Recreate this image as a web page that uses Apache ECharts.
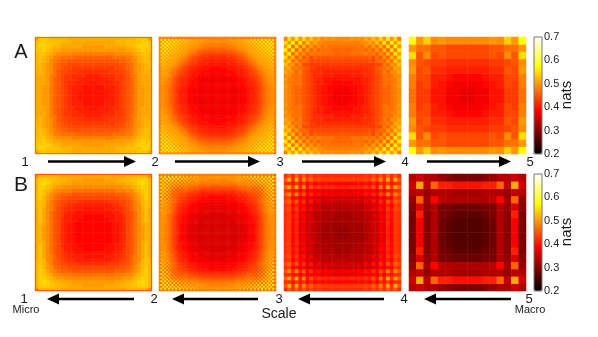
<!DOCTYPE html>
<html>
<head>
<meta charset="utf-8">
<style>html,body{margin:0;padding:0;background:#fff}#main{width:598px;height:337px}</style>
<script src="https://cdn.jsdelivr.net/npm/echarts@6/dist/echarts.min.js"></script>
</head>
<body>
<div id="main"></div>
<script>
// every panel is stored as its top-left quadrant (edge -> centre), in 1/100 nats
const a1 = [
[50,53,53,53,52,52,52,52,52,51,51,51,51,51,51,51],
[53,54,54,53,53,53,53,52,52,52,51,51,51,51,51,51],
[53,54,54,54,53,52,52,51,51,51,51,51,51,50,50,50],
[53,53,54,53,52,51,51,50,50,50,50,50,50,50,50,50],
[52,53,53,52,51,50,49,49,49,49,48,48,48,48,48,48],
[52,53,52,51,50,48,48,47,47,47,47,46,46,46,46,46],
[52,53,52,51,49,48,47,46,46,45,45,45,45,45,45,45],
[52,52,51,50,49,47,46,45,45,44,44,44,44,44,44,44],
[52,52,51,50,49,47,46,45,44,44,43,43,43,43,43,43],
[51,52,51,50,49,47,45,44,44,43,43,43,42,42,42,42],
[51,51,51,50,48,47,45,44,43,43,42,42,42,42,41,41],
[51,51,51,50,48,46,45,44,43,43,42,42,41,41,41,41],
[51,51,51,50,48,46,45,44,43,42,42,41,41,41,41,40],
[51,51,50,50,48,46,45,44,43,42,41,41,41,40,40,40],
[51,51,50,50,48,46,45,44,43,42,41,41,41,40,40,40],
[51,51,50,50,48,46,45,44,43,42,41,41,40,40,40,40]];
const b1 = [
[49,52,52,52,52,52,52,51,51,51,51,51,51,51,51,51],
[52,54,54,54,53,53,52,52,52,51,51,51,51,50,50,50],
[52,54,55,54,53,52,52,51,51,51,50,50,50,50,50,50],
[52,54,54,53,52,51,50,50,49,49,49,49,49,49,49,49],
[52,54,53,52,51,49,49,48,48,48,47,47,47,47,47,47],
[52,54,53,51,49,48,47,46,46,46,45,45,45,45,45,45],
[52,54,52,50,49,47,46,45,45,44,44,44,44,44,44,44],
[52,53,52,50,48,46,45,44,44,43,43,43,42,42,42,42],
[52,53,52,49,48,46,45,44,43,42,42,41,41,41,41,41],
[51,53,51,49,48,46,44,43,42,42,41,41,41,40,40,40],
[51,53,51,49,47,45,44,43,42,41,41,40,40,40,40,40],
[51,53,51,49,47,45,44,43,41,41,40,40,40,39,39,39],
[51,53,51,49,47,45,44,42,41,41,40,40,39,39,39,39],
[51,52,51,49,47,45,44,42,41,40,40,39,39,39,39,39],
[51,52,50,49,47,45,44,42,41,40,40,39,39,39,39,39],
[51,52,50,49,47,45,44,42,41,40,40,39,39,39,39,39]];
const a2 = [
[47,49,48,49,48,49,48,49,48,49,48,49,48,49,48,48,48,48,48,48,48,48,48,48,48,48,48,48,48,48,48,48],
[49,57,50,57,50,57,50,57,50,56,50,55,50,54,50,53,50,52,50,51,50,50,50,50,50,50,49,49,49,49,49,49],
[48,50,57,50,57,50,56,50,56,50,55,50,54,50,53,50,52,50,51,50,50,50,50,50,49,49,49,49,49,49,49,49],
[49,57,50,57,50,57,50,56,50,55,50,54,50,53,50,52,50,51,50,50,50,50,49,49,49,49,49,48,48,48,48,48],
[48,50,57,50,57,50,56,50,55,50,54,50,53,50,52,50,51,50,50,50,50,49,49,49,48,48,48,48,48,48,48,48],
[49,57,50,57,50,56,50,55,50,54,50,53,50,52,50,51,50,50,50,49,49,49,48,48,48,47,47,47,47,47,47,47],
[48,50,56,50,56,50,55,50,54,50,53,50,52,50,51,50,50,49,49,49,48,48,48,47,47,47,47,46,46,46,46,46],
[49,57,50,56,50,55,50,54,50,53,50,52,50,51,50,50,49,49,48,48,47,47,46,46,46,45,45,45,45,45,45,45],
[48,50,56,50,55,50,54,50,53,50,52,50,51,50,50,49,48,48,47,47,46,45,45,45,44,44,44,44,44,44,44,44],
[49,56,50,55,50,54,50,53,50,52,50,51,50,50,49,48,48,47,46,46,45,45,44,44,44,43,43,43,43,43,43,43],
[48,50,55,50,54,50,53,50,52,50,51,50,50,49,48,48,47,46,45,45,44,44,44,43,43,43,43,42,42,42,42,42],
[49,55,50,54,50,53,50,52,50,51,50,50,49,48,48,47,46,45,45,44,44,43,43,43,42,42,42,42,42,42,42,42],
[48,50,54,50,53,50,52,50,51,50,50,49,48,48,47,46,45,45,44,44,43,43,42,42,42,42,41,41,41,41,41,41],
[49,54,50,53,50,52,50,51,50,50,49,48,48,47,46,45,45,44,43,43,43,42,42,42,41,41,41,41,41,41,41,41],
[48,50,53,50,52,50,51,50,50,49,48,48,47,46,45,44,44,43,43,42,42,42,41,41,41,41,41,40,40,40,40,40],
[48,53,50,52,50,51,50,50,49,48,48,47,46,45,44,44,43,43,42,42,42,41,41,41,41,40,40,40,40,40,40,40],
[48,50,52,50,51,50,50,49,48,48,47,46,45,44,44,43,43,42,42,41,41,41,41,40,40,40,40,40,40,40,39,39],
[48,52,50,51,50,50,49,48,48,47,46,45,45,44,43,43,42,42,41,41,41,40,40,40,40,40,40,39,39,39,39,39],
[48,50,51,50,50,50,49,48,47,46,45,45,44,43,43,42,42,41,41,41,40,40,40,40,39,39,39,39,39,39,39,39],
[48,51,50,50,50,49,48,47,47,46,45,44,44,43,42,42,41,41,41,40,40,40,40,39,39,39,39,39,39,39,39,39],
[48,50,50,50,50,49,48,47,46,45,44,44,43,43,42,42,41,41,40,40,40,40,39,39,39,39,39,39,38,38,38,38],
[48,50,50,50,49,49,48,47,45,45,44,43,43,42,42,41,41,41,40,40,40,39,39,39,39,39,38,38,38,38,38,38],
[48,50,50,49,49,48,48,46,45,44,44,43,42,42,41,41,41,40,40,40,39,39,39,39,38,38,38,38,38,38,38,38],
[48,50,50,49,49,48,47,46,45,44,43,43,42,42,41,41,40,40,40,39,39,39,39,38,38,38,38,38,38,38,38,38],
[48,50,49,49,48,48,47,46,44,44,43,42,42,41,41,41,40,40,39,39,39,39,38,38,38,38,38,38,38,38,38,38],
[48,50,49,49,48,47,47,45,44,43,43,42,42,41,41,40,40,40,39,39,39,38,38,38,38,38,38,38,38,38,38,38],
[48,49,49,48,48,47,47,45,44,43,43,42,41,41,41,40,40,39,39,39,38,38,38,38,38,38,38,38,38,38,38,38],
[48,49,49,48,48,47,46,45,44,43,42,42,41,41,40,40,40,39,39,39,38,38,38,38,38,38,38,38,38,38,38,38],
[48,49,49,48,48,47,46,45,44,43,42,42,41,41,40,40,39,39,39,38,38,38,38,38,38,38,38,38,38,38,38,38],
[48,49,49,48,48,47,46,45,44,43,42,42,41,41,40,40,39,39,39,38,38,38,38,38,38,38,38,38,38,38,38,38],
[48,49,49,48,48,47,46,45,44,43,42,41,41,41,40,40,39,39,39,38,38,38,38,38,38,38,38,38,38,38,38,38],
[48,49,49,48,48,47,46,45,44,43,42,41,41,41,40,40,39,39,39,38,38,38,38,38,38,38,38,38,38,38,38,38]];
const b2 = [
[46,50,47,50,47,50,47,50,47,50,47,50,47,50,47,49,47,49,47,49,48,48,48,48,48,48,48,48,48,48,48,48],
[50,57,47,57,47,57,47,57,47,56,47,56,47,55,47,54,48,53,48,52,49,51,49,50,49,50,49,50,49,50,49,50],
[47,47,56,47,56,47,56,47,55,47,55,47,54,47,53,48,52,48,51,49,50,49,50,49,49,49,49,49,49,49,49,49],
[50,57,47,57,47,56,47,56,46,55,46,54,46,53,47,52,47,51,48,50,49,50,49,49,49,49,48,48,48,48,48,48],
[47,47,56,47,56,46,55,46,54,46,54,46,53,46,52,47,51,48,50,48,49,49,48,48,48,48,48,48,48,48,48,48],
[50,57,47,56,46,55,46,54,46,53,46,52,46,51,47,50,47,49,48,48,48,48,47,47,47,47,47,47,47,47,47,47],
[47,47,56,47,55,46,54,45,52,45,51,45,50,46,49,47,48,47,47,47,47,46,46,46,46,46,46,46,46,46,45,45],
[50,57,47,56,46,54,45,52,44,50,44,49,45,48,46,47,46,46,46,46,45,45,45,45,44,44,44,44,44,44,44,44],
[47,47,55,46,54,46,52,44,50,44,48,44,47,45,46,46,45,45,45,44,44,44,44,43,43,43,43,43,43,43,43,43],
[50,56,47,55,46,53,45,50,44,48,44,47,44,46,45,45,44,44,44,43,43,43,42,42,42,42,42,42,42,42,42,42],
[47,47,55,46,54,46,51,44,48,44,47,44,45,44,44,44,43,43,43,42,42,42,42,41,41,41,41,41,41,41,41,41],
[50,56,47,54,46,52,45,49,44,47,44,45,44,44,43,43,43,42,42,42,41,41,41,41,40,40,40,40,40,40,40,40],
[47,47,54,46,53,46,50,45,47,44,45,44,44,43,43,42,42,42,41,41,41,40,40,40,40,40,40,39,39,39,39,39],
[50,55,47,53,46,51,46,48,45,46,44,44,43,43,42,42,41,41,41,40,40,40,40,39,39,39,39,39,39,39,39,39],
[47,47,53,47,52,47,49,46,46,45,44,43,43,42,42,41,41,41,40,40,40,39,39,39,39,39,38,38,38,38,38,38],
[49,54,48,52,47,50,47,47,46,45,44,43,42,42,41,41,41,40,40,40,39,39,39,39,38,38,38,38,38,38,38,38],
[47,48,52,48,51,48,48,46,45,44,43,43,42,41,41,41,40,40,39,39,39,39,38,38,38,38,38,38,38,38,38,38],
[49,53,48,51,48,49,47,46,45,44,43,42,42,41,41,40,40,39,39,39,38,38,38,38,38,38,38,37,37,37,37,37],
[47,48,51,48,50,48,47,46,45,44,43,42,41,41,40,40,39,39,39,38,38,38,38,38,38,37,37,37,37,37,37,37],
[49,52,49,50,48,48,47,46,44,43,42,42,41,40,40,40,39,39,38,38,38,38,38,37,37,37,37,37,37,37,37,37],
[48,49,50,49,49,48,47,45,44,43,42,41,41,40,40,39,39,39,38,38,38,37,37,37,37,37,37,37,37,37,37,37],
[48,51,49,50,48,48,46,45,44,43,42,41,41,40,40,39,39,38,38,38,37,37,37,37,37,37,37,37,36,36,36,36],
[48,49,50,49,48,47,46,45,44,42,42,41,40,40,39,39,38,38,38,37,37,37,37,37,37,37,36,36,36,36,36,36],
[48,50,49,49,48,47,46,45,43,42,41,41,40,39,39,39,38,38,38,37,37,37,37,37,36,36,36,36,36,36,36,36],
[48,49,49,49,48,47,46,44,43,42,41,41,40,39,39,38,38,38,37,37,37,37,37,36,36,36,36,36,36,36,36,36],
[48,50,49,49,48,47,46,44,43,42,41,40,40,39,39,38,38,38,37,37,37,37,36,36,36,36,36,36,36,36,36,36],
[48,49,49,48,48,47,46,44,43,42,41,40,40,39,39,38,38,37,37,37,37,36,36,36,36,36,36,36,36,36,36,36],
[48,50,49,48,48,47,46,44,43,42,41,40,39,39,38,38,38,37,37,37,36,36,36,36,36,36,36,36,36,36,36,36],
[48,49,49,48,48,47,46,44,43,42,41,40,39,39,38,38,37,37,37,37,36,36,36,36,36,36,36,36,36,36,36,36],
[48,50,49,48,48,47,46,44,43,42,41,40,39,39,38,38,37,37,37,36,36,36,36,36,36,36,36,36,36,36,36,36],
[48,49,49,48,48,47,46,44,43,42,41,40,39,39,38,38,37,37,37,36,36,36,36,36,36,36,36,36,36,36,36,36],
[48,50,49,48,48,47,46,44,43,42,41,40,39,39,38,38,37,37,37,36,36,36,36,36,36,36,36,36,36,36,36,36]];
const a3 = [
[48,55,50,56,50,55,50,53,50,51,49,50,49,50,49,49],
[55,50,57,48,56,48,53,49,51,49,49,48,48,48,48,48],
[50,57,47,55,47,52,47,50,47,49,47,48,47,47,47,47],
[56,48,55,46,52,46,50,46,48,46,47,47,47,46,46,46],
[50,56,47,52,47,49,46,48,47,48,47,47,47,47,46,46],
[55,48,52,46,49,45,47,44,46,45,45,45,45,45,45,45],
[50,53,47,50,46,47,46,44,45,44,44,44,44,44,44,44],
[53,49,50,46,48,44,44,43,43,43,43,43,43,43,43,43],
[50,51,47,48,47,46,45,43,43,42,42,42,42,42,42,42],
[51,49,49,46,48,45,44,43,42,42,42,41,41,41,41,41],
[49,49,47,47,47,45,44,43,42,42,41,41,41,41,40,40],
[50,48,48,47,47,45,44,43,42,41,41,40,40,40,40,40],
[49,48,47,47,47,45,44,43,42,41,41,40,40,39,39,39],
[50,48,47,46,47,45,44,43,42,41,40,40,39,39,39,38],
[49,48,47,46,46,45,44,43,42,41,40,40,39,39,38,38],
[49,48,47,46,46,45,44,43,42,41,40,40,39,38,38,38]];
const b3 = [
[42,45,42,46,42,45,42,44,42,43,42,42,42,42,42,42],
[45,52,42,51,42,49,43,46,43,44,43,43,43,43,43,43],
[42,42,40,43,40,42,39,41,39,40,39,40,39,39,39,39],
[46,51,43,52,41,49,40,45,41,43,41,42,41,42,41,41],
[42,42,40,41,38,41,37,39,38,38,37,38,37,37,37,37],
[45,49,42,49,41,45,39,42,39,40,38,39,38,38,38,38],
[42,43,39,40,37,39,36,37,36,36,35,36,35,35,35,35],
[44,46,41,45,39,42,37,40,36,38,35,36,35,36,35,35],
[42,43,39,41,38,39,36,36,35,35,34,34,34,34,34,34],
[43,44,40,43,38,40,36,38,35,35,34,34,33,34,33,33],
[42,43,39,41,37,38,35,35,34,34,33,33,33,33,32,32],
[42,43,40,42,38,39,36,36,34,34,33,33,33,33,32,32],
[42,43,39,41,37,38,35,35,34,33,33,33,32,32,32,32],
[42,43,39,42,37,38,35,36,34,34,32,33,32,32,32,32],
[42,43,39,41,37,38,35,35,34,33,32,32,32,32,32,31],
[42,43,39,41,37,38,35,35,34,33,32,32,32,32,31,31]];
const a4 = [
[58,50,54,49,50,49,49,49],
[50,47,47,45,45,44,44,44],
[55,45,49,44,45,44,44,44],
[49,45,44,43,43,42,42,42],
[50,44,45,42,42,41,41,41],
[48,44,44,41,41,40,39,39],
[48,43,44,41,40,39,38,38],
[47,43,43,40,40,38,38,37]];
const b4 = [
[33,35,33,33,31,30,29,29],
[35,51,34,46,41,41,40,40],
[33,34,31,33,33,33,32,32],
[31,46,32,39,34,33,33,33],
[30,36,31,33,29,29,28,28],
[29,41,30,33,29,28,27,27],
[29,38,30,33,28,27,26,26],
[29,38,30,33,28,27,26,26]];

const colorTicks = { min: 0.2, max: 0.7, step: 0.1 };
// matlab "hot" sampled at even steps
const hot = ['#000000','#550000','#aa0000','#ff0000','#ff5500','#ffaa00','#ffff00','#ffff80','#ffffff'];

const panels = [
  { rows: a1, left: 35, top: 37, edge: '#ff6a00' }, { rows: a2, left: 159, top: 37 },
  { rows: a3, left: 284, top: 37 }, { rows: a4, left: 409, top: 37 },
  { rows: b1, left: 35, top: 174, edge: '#ff5a00' }, { rows: b2, left: 159, top: 174 },
  { rows: b3, left: 284, top: 174 }, { rows: b4, left: 409, top: 174 },
];
const SIZE = 117;

function mirrored(rows) {
  const n = rows.length, out = [];
  for (let y = 0; y < 2 * n; y++) {
    for (let x = 0; x < 2 * n; x++) {
      const i = y < n ? y : 2 * n - 1 - y;
      const j = x < n ? x : 2 * n - 1 - x;
      out.push([x, y, rows[i][j] / 100]);
    }
  }
  return out;
}

const grid = [], xAxis = [], yAxis = [], series = [];
panels.forEach((p, k) => {
  const cats = Array.from({ length: p.rows.length * 2 }, (_, i) => i);
  grid.push({ left: p.left, top: p.top, width: SIZE, height: SIZE });
  xAxis.push({ type: 'category', gridIndex: k, data: cats, show: false });
  yAxis.push({ type: 'category', gridIndex: k, data: cats, show: false });
  series.push({ type: 'heatmap', xAxisIndex: k, yAxisIndex: k, data: mirrored(p.rows), silent: true, animation: false, progressive: 0 });
});

// colour bar axes, the gradient itself comes from visualMap
const barTops = [37, 174];
barTops.forEach((top, i) => {
  const k = panels.length + i;
  grid.push({ left: 534, top: top, width: 8, height: SIZE });
  xAxis.push({ type: 'value', gridIndex: k, show: false });
  yAxis.push({
    type: 'value', gridIndex: k, position: 'right', min: colorTicks.min, max: colorTicks.max, interval: colorTicks.step,
    axisLine: { show: false }, axisTick: { show: false }, splitLine: { show: false },
    axisLabel: { margin: 2, fontSize: 11, color: '#222', fontFamily: 'Liberation Sans', formatter: v => v.toFixed(1) },
  });
});

const visualMap = barTops.map((top, i) => ({
  type: 'continuous', min: colorTicks.min, max: colorTicks.max,
  seriesIndex: i === 0 ? [0, 1, 2, 3] : [4, 5, 6, 7],
  left: 534, top: top, itemWidth: 8, itemHeight: SIZE, padding: 0,
  calculable: false, hoverLink: false, text: null, inRange: { color: hot },
}));

function label(text, x, y, size, extra) {
  return Object.assign({
    type: 'text', x: x, y: y, silent: true, z: 10,
    style: { text: text, fill: '#1a1a1a', font: size + 'px "Liberation Sans"', align: 'center', verticalAlign: 'middle' },
  }, extra);
}
function arrow(x1, x2, y) {
  // head sits at x2
  const dir = x2 > x1 ? 1 : -1, base = x2 - dir * 12;
  return [
    { type: 'line', silent: true, z: 10, shape: { x1: x1, y1: y, x2: base, y2: y }, style: { stroke: '#000', lineWidth: 2.5 } },
    { type: 'polygon', silent: true, z: 10, shape: { points: [[x2, y], [base, y - 5.5], [base, y + 5.5]] }, style: { fill: '#000' } },
  ];
}

const graphic = [
  label('A', 21, 52, 20), label('B', 21, 185, 21),
  label('Scale', 279, 314, 14), label('Micro', 26, 310, 11), label('Macro', 530, 310, 11),
];
['1', '2', '3', '4', '5'].forEach((t, i) => {
  const xs = [25, 155, 280, 405, 530];
  graphic.push(label(t, xs[i], 162, 13), label(t, xs[i] - 1, 299, 13));
});
[[48, 136], [175, 260], [302, 386], [427, 511]].forEach(a => graphic.push(...arrow(a[0], a[1], 161.5)));
[[134, 47], [258, 172], [384, 298], [511, 424]].forEach(a => graphic.push(...arrow(a[0], a[1], 299)));
barTops.forEach((top, i) => {
  graphic.push({ type: 'rect', silent: true, z: 10, shape: { x: 534, y: top, width: 8, height: SIZE }, style: { fill: 'none', stroke: '#777', lineWidth: 1 } });
  graphic.push(label('nats', 567, i === 0 ? 95 : 232, 15, { rotation: Math.PI / 2 }));
});
panels.filter(p => p.edge).forEach(p => {
  graphic.push({ type: 'rect', silent: true, z: 9, shape: { x: p.left + 0.5, y: p.top + 0.5, width: SIZE - 1, height: SIZE - 1 }, style: { fill: 'none', stroke: p.edge, lineWidth: 1 } });
});

const chart = echarts.init(document.getElementById('main'), null, { renderer: 'canvas' });
chart.setOption({
  animation: false, backgroundColor: '#fff',
  grid, xAxis, yAxis, visualMap, series, graphic,
});
</script>
</body>
</html>
